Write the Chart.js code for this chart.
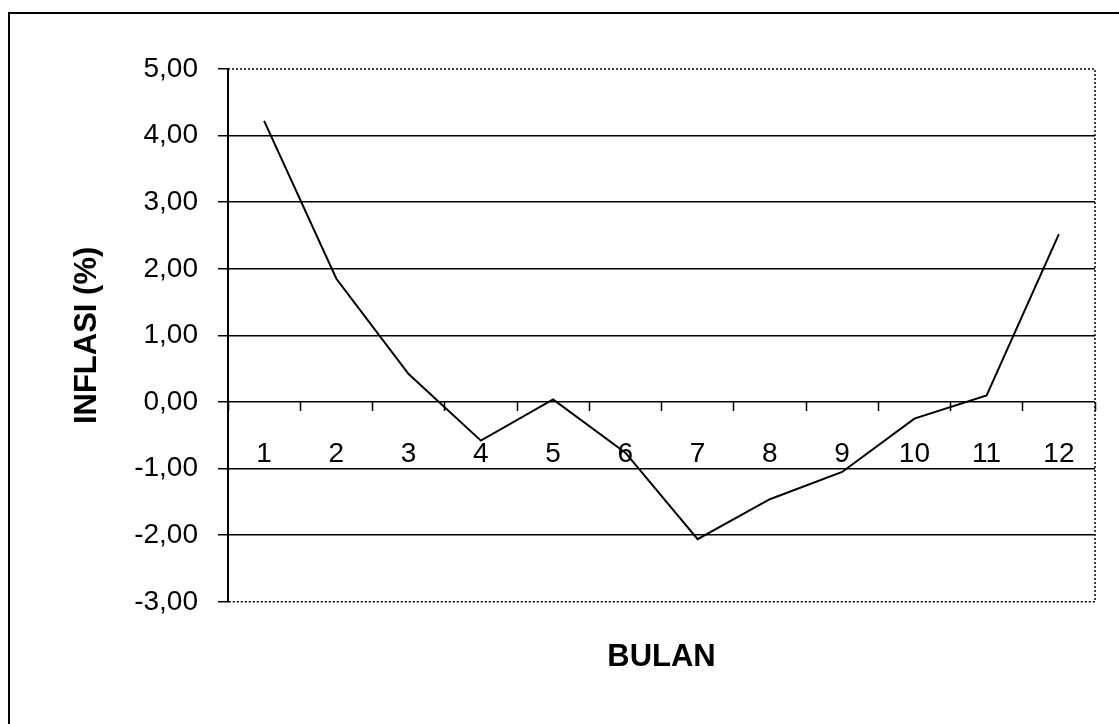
<!DOCTYPE html>
<html>
<head>
<meta charset="utf-8">
<script src="https://cdn.jsdelivr.net/npm/chart.js@4.4.1/dist/chart.umd.min.js"></script>
<style>
    html, body { margin: 0; padding: 0; background: #fff; overflow: hidden; }
    #wrap { position: relative; width: 1119px; height: 724px; }
    #frame { position: absolute; left: 8px; top: 12px; width: 1200px; height: 800px;
             border-left: 2px solid #000; border-top: 2px solid #000; }
    #inflasiChart { position: absolute; left: 0; top: 0; }
</style>
</head>
<body>
<div id="wrap">
    <div id="frame"></div>
    <canvas id="inflasiChart" width="1119" height="724"></canvas>
</div>
<script>
// data
const months = ['1', '2', '3', '4', '5', '6', '7', '8', '9', '10', '11', '12'];
const inflasi = [4.22, 1.85, 0.42, -0.58, 0.04, -0.76, -2.06, -1.46, -1.05, -0.25, 0.1, 2.52];
const yMin = -3;
const yMax = 5;

const FONT = '"Liberation Sans", Arial, sans-serif';

// dotted frame on top, right and bottom of the plot area
const dottedFrame = {
    id: 'dottedFrame',
    afterDraw(chart) {
        const { ctx, chartArea: a } = chart;
        ctx.save();
        ctx.strokeStyle = '#000';
        ctx.lineWidth = 1.5;
        ctx.setLineDash([2, 2]);
        ctx.beginPath();
        ctx.moveTo(a.left, a.top);
        ctx.lineTo(a.right, a.top);
        ctx.lineTo(a.right, a.bottom);
        ctx.lineTo(a.left, a.bottom);
        ctx.stroke();
        ctx.restore();
    }
};

const ctx = document.getElementById('inflasiChart').getContext('2d');
const chart = new Chart(ctx, {
    type: 'line',
    data: {
        labels: months,
        datasets: [{
            data: inflasi,
            borderColor: '#000',
            borderWidth: 2,
            pointRadius: 0,
            tension: 0,
            fill: false
        }]
    },
    options: {
        responsive: false,
        animation: false,
        layout: { padding: { left: 0, top: 69, right: 24, bottom: 0 } },
        plugins: {
            legend: { display: false },
            tooltip: { enabled: false },
            title: {
                display: true,
                text: 'BULAN',
                position: 'bottom',
                fullSize: false,
                color: '#000',
                font: { family: FONT, size: 31, weight: 'bold' },
                padding: { top: 37, bottom: 48 }
            }
        },
        scales: {
            x: {
                position: { y: 0 },
                offset: true,
                grid: {
                    offset: true,
                    drawOnChartArea: false,
                    drawTicks: true,
                    tickLength: 9,
                    tickColor: '#000',
                    tickWidth: 1.5
                },
                border: { display: false },
                ticks: {
                    color: '#000',
                    padding: 26,
                    maxRotation: 0,
                    font: { family: FONT, size: 28 }
                }
            },
            y: {
                min: yMin,
                max: yMax,
                afterFit(scale) { scale.width = 228; },
                grid: {
                    color: (c) => (c.tick && (c.tick.value === yMin || c.tick.value === yMax)) ? 'rgba(0,0,0,0)' : '#000',
                    lineWidth: 1.5,
                    tickLength: 10,
                    tickColor: '#000',
                    tickWidth: 1.5
                },
                border: { display: true, color: '#000', width: 2 },
                ticks: {
                    stepSize: 1,
                    color: '#000',
                    padding: 20,
                    font: { family: FONT, size: 28 },
                    callback: (v) => v.toFixed(2).replace('.', ',')
                },
                title: {
                    display: true,
                    text: 'INFLASI (%)',
                    color: '#000',
                    font: { family: FONT, size: 31, weight: 'bold' },
                    padding: { top: 69, bottom: 0 }
                }
            }
        }
    },
    plugins: [dottedFrame]
});
</script>
</body>
</html>
